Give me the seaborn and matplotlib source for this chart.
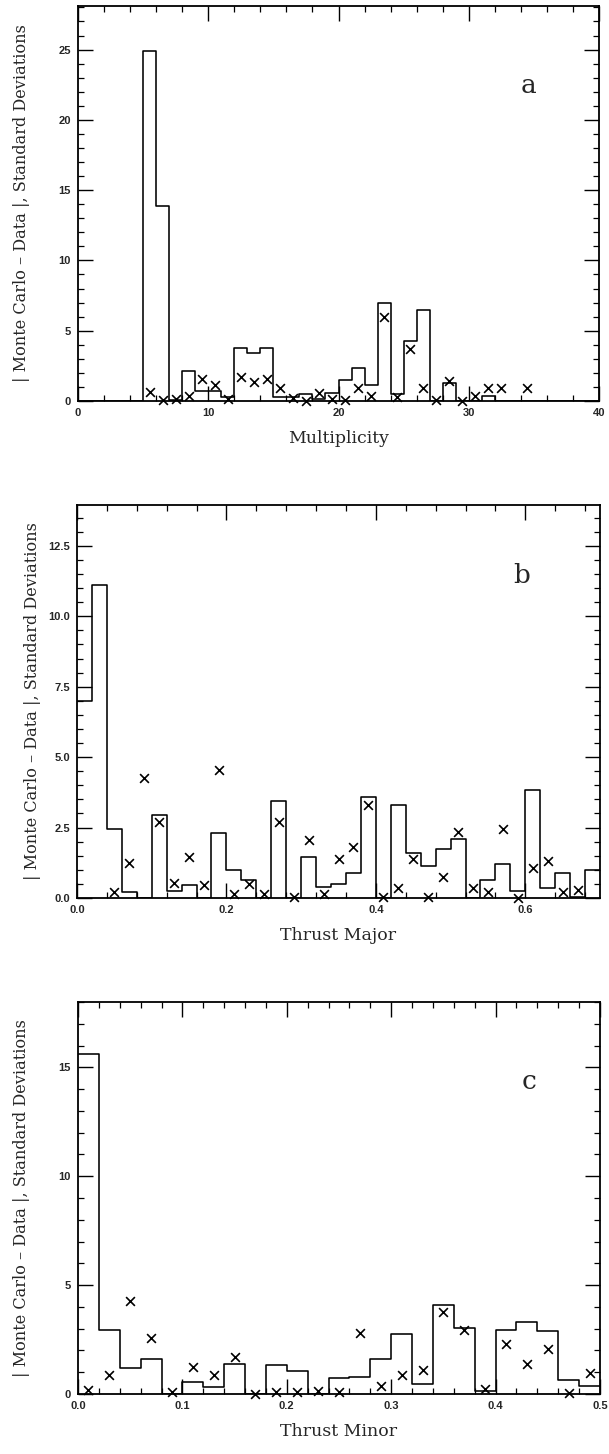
import numpy as np
import matplotlib
matplotlib.use("Agg")
import matplotlib.pyplot as plt
from matplotlib.ticker import MultipleLocator, FormatStrFormatter
import seaborn as sns

# ---------------- data ----------------
# Panel a: Multiplicity, bins of width 1 from 0 to 40
mult_edges = list(range(0, 41))
mult_hist = [0, 0, 0, 0, 0, 24.9, 13.9, 0.05, 2.15, 0.7,
             0.7, 0.3, 3.75, 3.45, 3.8, 0.3, 0.3, 0.5, 0.15, 0.6,
             1.5, 2.35, 1.15, 7.0, 0.5, 4.3, 6.5, 0.0, 1.3, 0.0,
             0.0, 0.35, 0, 0, 0, 0, 0, 0, 0, 0]
mult_mark_x = [5.5, 6.5, 7.5, 8.5, 9.5, 10.5, 11.5, 12.5, 13.5, 14.5,
               15.5, 16.5, 17.5, 18.5, 19.5, 20.5, 21.5, 22.5, 23.5, 24.5,
               25.5, 26.5, 27.5, 28.5, 29.5, 30.5, 31.5, 32.5, 34.5]
mult_mark_y = [0.65, 0.05, 0.15, 0.35, 1.6, 1.15, 0.15, 1.7, 1.35, 1.55,
               0.9, 0.2, 0.0, 0.6, 0.15, 0.05, 0.95, 0.35, 5.95, 0.3,
               3.7, 0.95, 0.1, 1.45, 0.0, 0.35, 0.95, 0.95, 0.95]

# Panel b: Thrust Major, bins of width 0.02 from 0 to 0.7
tmaj_hist = [7.0, 11.1, 2.45, 0.2, 0.0, 2.95, 0.25, 0.45, 0.0, 2.3,
             1.0, 0.65, 0.0, 3.45, 0.0, 1.45, 0.4, 0.5, 0.9, 3.6,
             0.0, 3.3, 1.6, 1.15, 1.75, 2.1, 0.0, 0.65, 1.2, 0.25,
             3.85, 0.35, 0.9, 0.05, 1.0]
tmaj_mark_y = [0.2, 1.25, 4.25, 2.7, 0.55, 1.45, 0.45, 4.55, 0.15, 0.5,
               0.15, 2.7, 0.05, 2.05, 0.15, 1.4, 1.8, 3.3, 0.05, 0.35,
               1.4, 0.05, 0.75, 2.35, 0.35, 0.2, 2.45, 0.0, 1.05, 1.3,
               0.2, 0.3]

# Panel c: Thrust Minor, bins of width 0.02 from 0 to 0.5
tmin_hist = [15.6, 2.95, 1.2, 1.6, 0.0, 0.55, 0.3, 1.4, 0.0, 1.35,
             1.05, 0.0, 0.75, 0.8, 1.6, 2.75, 0.45, 4.1, 3.05, 0.15,
             2.95, 3.3, 2.9, 0.65, 0.35]
tmin_mark_y = [0.2, 0.85, 4.25, 2.55, 0.1, 1.25, 0.85, 1.7, 0.0, 0.1,
               0.1, 0.15, 0.1, 2.8, 0.35, 0.85, 1.1, 3.75, 2.95, 0.25,
               2.3, 1.4, 2.05, 0.05, 0.95]

ylabel = "| Monte Carlo \u2013 Data |, Standard Deviations"

# ---------------- style ----------------
sns.set_theme(style="ticks")
plt.rcParams["font.family"] = ["DejaVu Sans"]

fig = plt.figure(figsize=(6.09, 14.54), dpi=100)
W, H = 609.0, 1454.0

def make_axes(left, top, right, bottom):
    return fig.add_axes([left / W, 1 - bottom / H, (right - left) / W, (bottom - top) / H])

def style_axes(ax, xlim, ylim, xmaj, xmin, ymaj, ymin, xfmt, yfmt, xlabel,
               letter, letter_xy, ylab_x):
    ax.set_xlim(*xlim)
    ax.set_ylim(*ylim)
    ax.xaxis.set_major_locator(MultipleLocator(xmaj))
    ax.xaxis.set_minor_locator(MultipleLocator(xmin))
    ax.yaxis.set_major_locator(MultipleLocator(ymaj))
    ax.yaxis.set_minor_locator(MultipleLocator(ymin))
    ax.xaxis.set_major_formatter(FormatStrFormatter(xfmt))
    ax.yaxis.set_major_formatter(FormatStrFormatter(yfmt))
    ax.tick_params(which="both", direction="in", top=True, right=True,
                   bottom=True, left=True, color="black")
    ax.tick_params(which="major", length=10.5, width=1.0, pad=5)
    ax.tick_params(which="minor", length=4, width=0.9)
    for lab in ax.get_xticklabels() + ax.get_yticklabels():
        lab.set_fontfamily("Liberation Sans")
        lab.set_fontweight("bold")
        lab.set_fontsize(8)
    for s in ax.spines.values():
        s.set_visible(True)
        s.set_linewidth(1.3)
        s.set_color("black")
    ax.set_xlabel(xlabel, family="DejaVu Serif", fontsize=12.5, labelpad=9)
    ax.set_ylabel(ylabel, family="DejaVu Serif", fontsize=11.6)
    ax.yaxis.set_label_coords(ylab_x, 0.5)
    ax.text(letter_xy[0], letter_xy[1], letter, transform=ax.transAxes,
            family="DejaVu Serif", fontsize=19, ha="center", va="center")
    ax.set_facecolor("white")
    ax.grid(False)

def draw_panel(ax, edges, hist, mx, my):
    centers = [(edges[i] + edges[i + 1]) / 2 for i in range(len(hist))]
    sns.histplot(x=centers, weights=hist, bins=edges, element="step", fill=False,
                 color="black", linewidth=1.15, ax=ax)
    sns.scatterplot(x=mx, y=my, marker="x", color="black", s=40, linewidth=1.2,
                    ax=ax, clip_on=False, zorder=5)

# Panel a
ax1 = make_axes(78, 6, 599, 401)
draw_panel(ax1, mult_edges, mult_hist, mult_mark_x, mult_mark_y)
style_axes(ax1, (0, 40), (0, 28.1), 10, 2, 5, 1, "%d", "%d",
           "Multiplicity", "a", (0.865, 0.80), -0.092)

# Panel b
tmaj_edges = [round(0.02 * i, 2) for i in range(36)]
tmaj_mark_x = [round(0.05 + 0.02 * i, 2) for i in range(len(tmaj_mark_y))]
ax2 = make_axes(77, 505, 600, 898)
draw_panel(ax2, tmaj_edges, tmaj_hist, tmaj_mark_x, tmaj_mark_y)
style_axes(ax2, (0, 0.7), (0, 13.95), 0.2, 0.04, 2.5, 0.5, "%.1f", "%.1f",
           "Thrust Major", "b", (0.85, 0.82), -0.069)

# Panel c
tmin_edges = [round(0.02 * i, 2) for i in range(26)]
tmin_mark_x = [round(0.01 + 0.02 * i, 2) for i in range(len(tmin_mark_y))]
ax3 = make_axes(78, 1002, 600, 1394)
draw_panel(ax3, tmin_edges, tmin_hist, tmin_mark_x, tmin_mark_y)
style_axes(ax3, (0, 0.5), (0, 18.0), 0.1, 0.02, 5, 1, "%.1f", "%d",
           "Thrust Minor", "c", (0.865, 0.797), -0.092)

fig.savefig("out.png", dpi=100, facecolor="white")
